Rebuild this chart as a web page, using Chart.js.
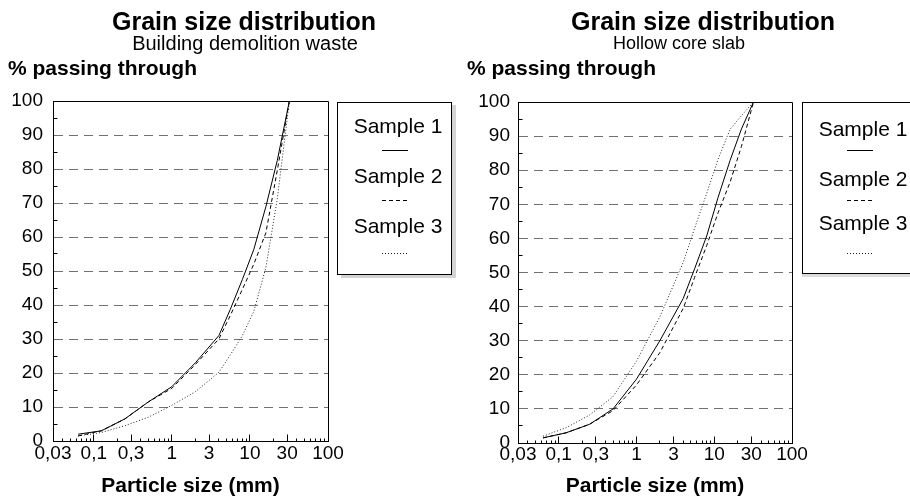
<!DOCTYPE html>
<html><head><meta charset="utf-8">
<script src="https://cdn.jsdelivr.net/npm/chart.js@4.4.1/dist/chart.umd.min.js"></script>
<style>
html,body{margin:0;padding:0;background:#fff;}
body{width:910px;height:498px;position:relative;overflow:hidden;font-family:"Liberation Sans",Arial,Helvetica,sans-serif;color:#000;}
.abs{position:absolute;white-space:nowrap;line-height:1;}
.ctr{transform:translateX(-50%);}
.t1{font-weight:bold;font-size:25px;}
.ylab{font-weight:bold;font-size:21px;}
.lg{font-size:21px;}
.box{position:absolute;border:1px solid #000;box-sizing:border-box;background:#fff;}
canvas{position:absolute;top:0;}
</style></head>
<body>
<canvas id="c1" width="460" height="498" style="left:0;width:460px;height:498px"></canvas>
<canvas id="c2" width="450" height="498" style="left:460px;width:450px;height:498px"></canvas>

<div class="abs ctr t1" style="left:244px;top:9px">Grain size distribution</div>
<div class="abs ctr" style="left:245px;top:33px;font-size:20px">Building demolition waste</div>
<div class="abs ylab" style="left:8px;top:57px">% passing through</div>

<div class="abs ctr t1" style="left:703px;top:9px">Grain size distribution</div>
<div class="abs ctr" style="left:679px;top:34px;font-size:18px">Hollow core slab</div>
<div class="abs ylab" style="left:467px;top:57px">% passing through</div>

<div class="box" style="left:337px;top:102px;width:115px;height:173px;box-shadow:4px 3px 0 #d4d4d4"></div>
<div class="box" style="left:802px;top:102px;width:120px;height:172px;box-shadow:0 3px 0 #dcdcdc"></div>
<div id="legend1"></div>
<div id="legend2"></div>

<script>
// ---- data ----
const sieveSizes = [0.063, 0.125, 0.25, 0.5, 1, 2, 4, 5.6, 8, 11.2, 16, 22.4, 32];   // mm
const xTickValues = [0.03, 0.1, 0.3, 1, 3, 10, 30, 100];
const yTickValues = [0, 10, 20, 30, 40, 50, 60, 70, 80, 90, 100];
const seriesNames = ['Sample 1', 'Sample 2', 'Sample 3'];

// Building demolition waste (% passing)
const demolitionSample1 = [2, 3, 6.5, 11.5, 16, 23, 31, 38.7, 47.5, 56.3, 68.9, 82.5, 100];
const demolitionSample2 = [1.5, 3, 6.5, 11.5, 15.5, 22.5, 30, 36.9, 44.6, 52, 61.2, 79.6, 100];
const demolitionSample3 = [1.5, 2.5, 4.5, 7, 10.5, 14.5, 20.2, 25.3, 31, 38.1, 51, 71.2, 100];

// Hollow core slab (% passing)
const slabSample1 = [1.5, 3, 5.5, 10, 18.7, 30, 42.4, 51.1, 60.7, 72, 82.9, 92.1, 100];
const slabSample2 = [1.5, 3, 5.5, 9.5, 17, 26.5, 39.5, 48.6, 57.9, 67.5, 76.5, 87, 100];
const slabSample3 = [2, 4.5, 8.2, 13.6, 24, 37, 53, 63, 73.2, 83.2, 92, 96, 100];

// ---- styles ----
const lineDashes = [[], [4, 3], [1, 2]];
const lineColors = ['#000', '#000', '#222'];
const FONT = '"Liberation Sans", Arial, Helvetica, sans-serif';
Chart.defaults.color = '#000';
Chart.defaults.font.family = FONT;

function fmt(v) { return String(v).replace('.', ','); }
function crisp(p) { return Math.round(p - 0.5) + 0.5; }

const framePlugin = {
  id: 'frame',
  afterDatasetsDraw(chart) {
    const {ctx, chartArea: a, scales: {x, y}} = chart;
    const L = crisp(a.left), R = crisp(a.right), T = crisp(a.top), B = crisp(a.bottom);
    ctx.save();
    ctx.strokeStyle = '#000';
    ctx.lineWidth = 1;
    ctx.beginPath();
    ctx.moveTo(L, T); ctx.lineTo(R, T); ctx.lineTo(R, B);
    ctx.stroke();
    // minor ticks on the log axis (inside, from bottom)
    ctx.beginPath();
    for (let e = -2; e <= 2; e++) {
      for (let m = 1; m <= 9; m++) {
        const v = m * Math.pow(10, e);
        if (v < x.min * 0.999 || v > x.max * 1.001) continue;
        const px = crisp(x.getPixelForValue(v));
        const major = xTickValues.some(t => Math.abs(t - v) / t < 1e-6);
        const len = major ? 7 : 3;
        ctx.moveTo(px, B); ctx.lineTo(px, B - len);
      }
    }
    // minor ticks on the y axis
    for (let i = 0; i < yTickValues.length - 1; i++) {
      const mid = (yTickValues[i] + yTickValues[i + 1]) / 2;
      const py = crisp(y.getPixelForValue(mid));
      ctx.moveTo(L, py); ctx.lineTo(L + 4, py);
    }
    ctx.stroke();
    ctx.restore();
  }
};

function makeChart(id, seriesList, geom) {
  const datasets = seriesList.map((vals, i) => ({
    label: seriesNames[i],
    data: sieveSizes.map((s, k) => ({x: s, y: vals[k]})),
    borderColor: lineColors[i],
    borderWidth: 1,
    borderDash: lineDashes[i],
    pointRadius: 0,
    tension: 0,
    fill: false
  }));
  return new Chart(document.getElementById(id), {
    type: 'line',
    data: {datasets},
    plugins: [framePlugin],
    options: {
      responsive: false,
      animation: false,
      devicePixelRatio: 1,
      layout: {padding: {left: 0, right: geom.padRight, top: geom.top, bottom: 0}},
      plugins: {legend: {display: false}, tooltip: {enabled: false}, title: {display: false}},
      scales: {
        x: {
          type: 'logarithmic',
          min: xTickValues[0],
          max: xTickValues[xTickValues.length - 1],
          afterBuildTicks: (s) => { s.ticks = xTickValues.map(v => ({value: v})); },
          afterFit: (s) => { s.height = geom.xHeight; },
          grid: {display: true, drawOnChartArea: false, drawTicks: false},
          border: {display: true, color: '#000', width: 1},
          ticks: {
            autoSkip: false, maxRotation: 0, minRotation: 0,
            padding: geom.xTickPad,
            font: {size: 19, family: FONT},
            color: '#000',
            callback: (v) => fmt(v)
          },
          title: {
            display: true, text: 'Particle size (mm)',
            font: {size: 21, weight: 'bold', family: FONT, lineHeight: 1},
            padding: {top: 0, bottom: 1}, color: '#000'
          }
        },
        y: {
          min: yTickValues[0],
          max: yTickValues[yTickValues.length - 1],
          afterBuildTicks: (s) => { s.ticks = yTickValues.map(v => ({value: v})); },
          afterFit: (s) => { s.width = geom.yWidth; },
          grid: {
            drawTicks: false,
            color: (c) => (c.tick && (c.tick.value === 0 || c.tick.value === 100)) ? 'rgba(0,0,0,0)' : '#707070',
            lineWidth: 1
          },
          border: {display: true, color: '#000', width: 1, dash: [9, 6]},
          ticks: {padding: geom.yTickPad, font: {size: 19, family: FONT}, color: '#000'}
        }
      }
    }
  });
}

makeChart('c1', [demolitionSample1, demolitionSample2, demolitionSample3],
  {padRight: 132, top: 101, xHeight: 57, yWidth: 53, xTickPad: 1, yTickPad: 10});
makeChart('c2', [slabSample1, slabSample2, slabSample3],
  {padRight: 118, top: 102, xHeight: 55, yWidth: 58, xTickPad: 0, yTickPad: 8});

// ---- legends (text above a line sample) ----
function makeLegend(elId, cx, lineCx, textTops, lineYs) {
  const el = document.getElementById(elId);
  let html = '';
  seriesNames.forEach((name, i) => {
    html += '<div class="abs ctr lg" style="left:' + cx + 'px;top:' + textTops[i] + 'px">' + name + '</div>';
    const dash = lineDashes[i].length ? lineDashes[i].join(',') : 'none';
    html += '<svg class="abs" width="26" height="3" style="left:' + (lineCx - 13) + 'px;top:' + (lineYs[i] - 1) + 'px">' +
      '<line x1="0" y1="1.5" x2="26" y2="1.5" stroke="' + lineColors[i] + '" stroke-width="1" stroke-dasharray="' + dash + '"/></svg>';
  });
  el.innerHTML = html;
}
makeLegend('legend1', 398, 395, [115, 165, 215], [150, 200, 253]);
makeLegend('legend2', 863, 860, [118, 168, 212], [150, 200, 253]);
</script>
</body></html>
